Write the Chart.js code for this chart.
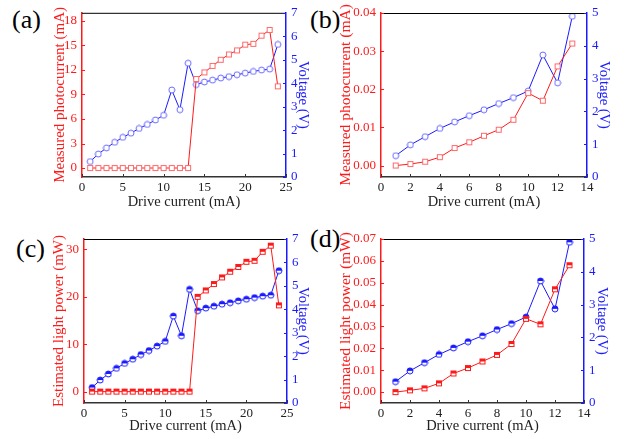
<!DOCTYPE html>
<html lang="en">
<head>
<meta charset="UTF-8">
<title>Photocurrent / light power vs drive current</title>
<script src="https://cdn.jsdelivr.net/npm/chart.js"></script>
<style>
    body { margin: 0; background: #fff; }
    #page { position: relative; width: 625px; height: 439px; overflow: hidden; }
    .panel { position: absolute; }
    .tag { position: absolute; font-family: 'Liberation Serif', serif; font-size: 26px; line-height: 1; color: #000; }
</style>
</head>
<body>
<div id="page">
    <div class="tag" style="left:12px; top:7px;">(a)</div>
    <div class="tag" style="left:310px; top:7px;">(b)</div>
    <div class="tag" style="left:16px; top:236px;">(c)</div>
    <div class="tag" style="left:310px; top:226px;">(d)</div>
    <div class="panel" style="left:48px; top:0px; width:268px; height:215px;"><canvas id="chartA"></canvas></div>
    <div class="panel" style="left:334px; top:0px; width:283px; height:215px;"><canvas id="chartB"></canvas></div>
    <div class="panel" style="left:47px; top:215px; width:269px; height:224px;"><canvas id="chartC"></canvas></div>
    <div class="panel" style="left:334px; top:215px; width:281px; height:224px;"><canvas id="chartD"></canvas></div>
</div>
<script>
    // drive current (mA)
    var currentA = [1, 2, 3, 4, 5, 6, 7, 8, 9, 10, 11, 12, 13, 14, 15, 16, 17, 18, 19, 20, 21, 22, 23, 24];
    var currentB = [1, 2, 3, 4, 5, 6, 7, 8, 9, 10, 11, 12, 13];

    // (a) measured photocurrent (mA) and voltage (V)
    var photoA = [0, 0, 0, 0, 0, 0, 0, 0, 0, 0, 0, 0, 0, 10.9, 11.7, 12.5, 13.25, 13.9, 14.4, 15.1, 15.2, 16.2, 16.9, 10.0];
    var voltA = [0.66, 0.98, 1.24, 1.48, 1.69, 1.87, 2.07, 2.24, 2.43, 2.63, 3.71, 2.87, 4.85, 3.94, 4.05, 4.13, 4.22, 4.28, 4.36, 4.43, 4.5, 4.56, 4.6, 5.65];

    // (b) low-current photocurrent (mA) and voltage (V)
    var photoB = [0, 0.0004, 0.001, 0.0022, 0.0046, 0.0061, 0.0078, 0.0094, 0.012, 0.019, 0.017, 0.026, 0.032];
    var voltB = [0.65, 0.98, 1.23, 1.48, 1.68, 1.87, 2.05, 2.24, 2.42, 2.62, 3.72, 2.87, 4.9];

    // (c) estimated light power (mW)
    var powerC = [0, 0, 0, 0, 0, 0, 0, 0, 0, 0, 0, 0, 0, 20.0, 21.35, 22.7, 24.1, 25.3, 26.3, 27.4, 27.6, 29.5, 30.8, 18.2];
    var voltC = voltA;

    // (d) estimated light power (mW)
    var powerD = [0, 0.0008, 0.0017, 0.004, 0.0085, 0.011, 0.014, 0.017, 0.022, 0.0335, 0.031, 0.047, 0.058];
    var voltD = voltB;

    // tick labels
    var xTicksA = [0, 5, 10, 15, 20, 25];
    var xTicksB = [0, 2, 4, 6, 8, 10, 12, 14];
    var yTicksA = [0, 3, 6, 9, 12, 15, 18];
    var yTicksB = [0, 0.01, 0.02, 0.03, 0.04];
    var yTicksC = [0, 10, 20, 30];
    var yTicksD = [0, 0.01, 0.02, 0.03, 0.04, 0.05, 0.06, 0.07];
    var vTicks7 = [0, 1, 2, 3, 4, 5, 6, 7];
    var vTicks5 = [0, 1, 2, 3, 4, 5];

    var RED = '#ff1a1a', BLUE = '#1a1aff';
    var serif = 'Liberation Serif';

    function marker(shape, color, half) {
        var c = document.createElement('canvas');
        c.width = 8; c.height = 8;
        var g = c.getContext('2d');
        g.lineWidth = 1;
        g.strokeStyle = color;
        g.fillStyle = '#fff';
        if (shape === 'square') {
            g.fillRect(1, 1, 6, 6);
            if (half) { g.fillStyle = color; g.fillRect(1, 1, 6, 3); }
            g.strokeRect(1.5, 1.5, 5, 5);
        } else {
            g.beginPath(); g.arc(4, 4, 3, 0, Math.PI * 2); g.fill();
            if (half) { g.fillStyle = color; g.beginPath(); g.arc(4, 4, 3, Math.PI, 0); g.fill(); }
            g.beginPath(); g.arc(4, 4, 3, 0, Math.PI * 2); g.stroke();
        }
        return c;
    }

    // black top border + inward ticks
    var frame = {
        id: 'frame',
        afterDraw: function (chart) {
            var ctx = chart.ctx, a = chart.chartArea, s = chart.scales;
            ctx.save();
            ctx.lineWidth = 1;
            ctx.strokeStyle = '#000';
            ctx.beginPath(); ctx.moveTo(a.left, a.top + 0.5); ctx.lineTo(a.right, a.top + 0.5); ctx.stroke();
            ctx.strokeStyle = '#333';
            s.x.ticks.forEach(function (t) {
                var px = Math.round(s.x.getPixelForValue(t.value)) + 0.5;
                ctx.beginPath(); ctx.moveTo(px, a.bottom); ctx.lineTo(px, a.bottom - 3); ctx.stroke();
            });
            ctx.strokeStyle = RED;
            s.y.ticks.forEach(function (t) {
                var py = Math.round(s.y.getPixelForValue(t.value)) + 0.5;
                ctx.beginPath(); ctx.moveTo(a.left, py); ctx.lineTo(a.left + 3, py); ctx.stroke();
            });
            ctx.strokeStyle = BLUE;
            s.y1.ticks.forEach(function (t) {
                var py = Math.round(s.y1.getPixelForValue(t.value)) + 0.5;
                ctx.beginPath(); ctx.moveTo(a.right, py); ctx.lineTo(a.right - 3, py); ctx.stroke();
            });
            ctx.restore();
        }
    };

    function fixTicks(list) {
        return function (scale) { scale.ticks = list.map(function (v) { return { value: v }; }); };
    }
    function fixSize(prop, v) {
        return function (scale) { scale[prop] = v; };
    }

    function makePanel(id, p) {
        var ctx = document.getElementById(id).getContext('2d');
        new Chart(ctx, {
            type: 'line',
            data: {
                labels: p.x,
                datasets: [
                    {
                        data: p.left, yAxisID: 'y', borderColor: RED, borderWidth: 1,
                        pointStyle: marker('square', p.half ? RED : '#ff6a6a', p.half),
                        pointRadius: 4, tension: 0
                    },
                    {
                        data: p.right, yAxisID: 'y1', borderColor: BLUE, borderWidth: 1,
                        pointStyle: marker('circle', p.half ? BLUE : '#6a6aff', p.half),
                        pointRadius: 4, tension: 0
                    }
                ]
            },
            options: {
                responsive: true,
                maintainAspectRatio: false,
                animation: false,
                layout: { padding: { top: p.top, left: 0, right: 0, bottom: 0 } },
                plugins: { legend: { display: false }, tooltip: { enabled: false } },
                scales: {
                    x: {
                        type: 'linear', min: p.xMin, max: p.xMax,
                        afterBuildTicks: fixTicks(p.xTicks),
                        afterFit: fixSize('height', p.xh),
                        grid: { display: false, drawTicks: false },
                        border: { color: '#333', width: 1.5 },
                        ticks: { color: '#222', font: { family: serif, size: 13 }, padding: 3 },
                        title: { display: true, text: 'Drive current (mA)', color: '#222', font: { family: serif, size: 14.5 }, padding: 4 }
                    },
                    y: {
                        position: 'left', min: p.yMin, max: p.yMax,
                        afterBuildTicks: fixTicks(p.yTicks),
                        afterFit: fixSize('width', p.lw),
                        grid: { display: false, drawTicks: false },
                        border: { color: RED, width: 1.5 },
                        ticks: {
                            color: RED, font: { family: serif, size: 13 }, padding: 5,
                            callback: function (v) { return v.toFixed(p.dec); }
                        },
                        title: { display: true, text: p.leftTitle, color: RED, font: { family: serif, size: p.tSize }, padding: 3 }
                    },
                    y1: {
                        position: 'right', min: 0, max: p.vMax,
                        afterBuildTicks: fixTicks(p.vTicks),
                        afterFit: fixSize('width', p.rw),
                        grid: { display: false, drawTicks: false },
                        border: { color: BLUE, width: 1.5 },
                        ticks: { color: BLUE, font: { family: serif, size: 13 }, padding: 5 },
                        title: { display: true, text: 'Voltage (V)', color: BLUE, font: { family: serif, size: 14.5 }, padding: 4 }
                    }
                }
            },
            plugins: [frame]
        });
    }

    makePanel('chartA', {
        x: currentA, left: photoA, right: voltA, half: false,
        xMin: 0, xMax: 25, xTicks: xTicksA,
        yMin: -1.1, yMax: 19, yTicks: yTicksA, dec: 0,
        vMax: 7, vTicks: vTicks7,
        leftTitle: 'Measured photocurrent (mA)', tSize: 15,
        top: 12, lw: 34, rw: 30, xh: 38
    });
    makePanel('chartB', {
        x: currentB, left: photoB, right: voltB, half: false,
        xMin: 0, xMax: 14, xTicks: xTicksB,
        yMin: -0.003, yMax: 0.04, yTicks: yTicksB, dec: 2,
        vMax: 5, vTicks: vTicks5,
        leftTitle: 'Measured photocurrent (mA)', tSize: 15.5,
        top: 13, lw: 47, rw: 30, xh: 38
    });
    makePanel('chartC', {
        x: currentA, left: powerC, right: voltC, half: true,
        xMin: 0, xMax: 25, xTicks: xTicksA,
        yMin: -2.4, yMax: 32.2, yTicks: yTicksC, dec: 0,
        vMax: 7, vTicks: vTicks7,
        leftTitle: 'Estimated light power (mW)', tSize: 15,
        top: 24, lw: 37, rw: 29, xh: 36
    });
    makePanel('chartD', {
        x: currentB, left: powerD, right: voltD, half: true,
        xMin: 0, xMax: 14, xTicks: xTicksB,
        yMin: -0.005, yMax: 0.07, yTicks: yTicksD, dec: 2,
        vMax: 5, vTicks: vTicks5,
        leftTitle: 'Estimated light power (mW)', tSize: 15.5,
        top: 24, lw: 47, rw: 31, xh: 36
    });
</script>
</body>
</html>
